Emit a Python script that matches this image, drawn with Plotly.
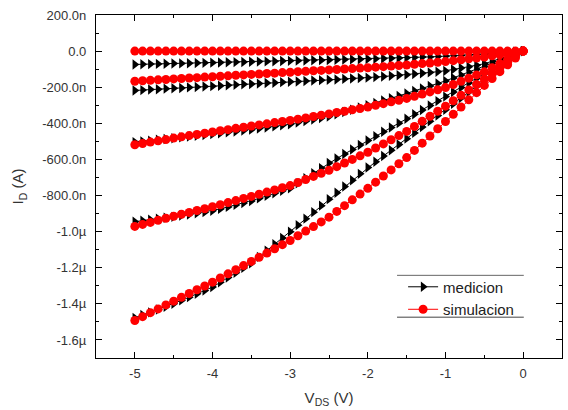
import plotly.graph_objects as go

# V_DS sweep (V)
VDS = [-5.0, -4.9, -4.8, -4.7, -4.6, -4.5, -4.4, -4.3, -4.2, -4.1,
       -4.0, -3.9, -3.8, -3.7, -3.6, -3.5, -3.4, -3.3, -3.2, -3.1,
       -3.0, -2.9, -2.8, -2.7, -2.6, -2.5, -2.4, -2.3, -2.2, -2.1,
       -2.0, -1.9, -1.8, -1.7, -1.6, -1.5, -1.4, -1.3, -1.2, -1.1,
       -1.0, -0.9, -0.8, -0.7, -0.6, -0.5, -0.4, -0.3, -0.2, -0.1, 0.0]

# medicion (nA)
med_1 = [-74, -73, -72, -71, -70, -69, -68, -67, -66, -65,
         -64, -63, -62, -61, -60, -59, -58, -57, -56, -55,
         -54, -53, -52, -51, -50, -49, -48, -47, -46, -45,
         -44, -43, -41, -40, -38, -37, -35, -33, -32, -30,
         -28, -26, -24, -21, -19, -17, -14, -10, -7, -3, 0]
med_2 = [-218, -216, -213, -211, -208, -206, -204, -201, -199, -196,
         -194, -192, -189, -187, -184, -182, -180, -177, -175, -172,
         -170, -168, -166, -163, -161, -159, -157, -154, -152, -149,
         -147, -144, -141, -137, -134, -131, -127, -123, -118, -114,
         -110, -102, -94, -86, -78, -70, -56, -42, -28, -14, 0]
med_3 = [-504, -500, -496, -491, -487, -483, -478, -474, -469, -465,
         -460, -455, -450, -445, -440, -435, -429, -423, -417, -411,
         -405, -396, -388, -379, -371, -362, -350, -337, -325, -312,
         -300, -287, -274, -261, -248, -235, -221, -207, -193, -179,
         -165, -149, -133, -117, -101, -85, -68, -51, -34, -17, 0]
med_4 = [-945, -940, -934, -929, -923, -918, -911, -905, -898, -892,
         -885, -874, -863, -852, -841, -830, -816, -802, -788, -774,
         -760, -732, -704, -676, -648, -620, -595, -570, -545, -520,
         -495, -471, -447, -423, -399, -375, -350, -326, -301, -277,
         -252, -227, -202, -176, -151, -126, -101, -76, -50, -25, 0]
med_5 = [-1478, -1462, -1447, -1431, -1416, -1400, -1381, -1363, -1344, -1326,
         -1307, -1281, -1254, -1228, -1201, -1175, -1140, -1105, -1070, -1035,
         -1000, -964, -928, -892, -856, -820, -785, -750, -715, -680,
         -645, -613, -581, -549, -517, -485, -453, -421, -389, -357,
         -325, -292, -260, -227, -195, -162, -130, -97, -65, -32, 0]

# simulacion (nA)
sim_1 = [0] * 51
sim_2 = [-167, -164, -162, -159, -157, -154, -152, -149, -147, -144,
         -142, -139, -137, -134, -132, -129, -127, -124, -122, -119,
         -117, -114, -112, -109, -107, -104, -102, -99, -97, -94,
         -92, -89, -86, -83, -80, -77, -73, -69, -66, -62,
         -58, -53, -48, -43, -38, -33, -26, -20, -13, -7, 0]
sim_3 = [-519, -512, -504, -497, -490, -482, -475, -468, -462, -455,
         -448, -441, -435, -428, -422, -415, -409, -403, -396, -390,
         -384, -377, -370, -362, -355, -348, -340, -333, -325, -318,
         -310, -300, -291, -281, -272, -262, -250, -238, -226, -214,
         -202, -185, -167, -150, -132, -115, -92, -69, -46, -23, 0]
sim_4 = [-971, -960, -949, -937, -926, -915, -904, -894, -883, -873,
         -862, -851, -839, -828, -816, -805, -793, -781, -769, -757,
         -745, -728, -711, -694, -677, -660, -640, -620, -600, -580,
         -560, -537, -514, -491, -468, -445, -417, -389, -361, -333,
         -305, -275, -245, -215, -185, -155, -124, -93, -62, -31, 0]
sim_5 = [-1492, -1471, -1449, -1428, -1406, -1385, -1364, -1343, -1322, -1301,
         -1280, -1257, -1234, -1211, -1188, -1165, -1142, -1119, -1095, -1072,
         -1049, -1023, -997, -972, -946, -920, -888, -856, -824, -792,
         -760, -726, -692, -658, -624, -590, -550, -510, -470, -430,
         -390, -350, -310, -270, -230, -190, -152, -114, -76, -38, 0]

medicion = [med_1, med_2, med_3, med_4, med_5]
simulacion = [sim_1, sim_2, sim_3, sim_4, sim_5]

x_tickvals = [-5, -4, -3, -2, -1, 0]
x_ticktext = ["-5", "-4", "-3", "-2", "-1", "0"]
y_tickvals_nA = [200, 0, -200, -400, -600, -800, -1000, -1200, -1400, -1600]
y_ticktext = ["200.0n", "0.0", "-200.0n", "-400.0n", "-600.0n", "-800.0n",
              "-1.0µ", "-1.2µ", "-1.4µ", "-1.6µ"]

FONT = "Arial, Liberation Sans, sans-serif"

fig = go.Figure()
for i, ys in enumerate(medicion):
    fig.add_trace(go.Scatter(
        x=VDS, y=[v * 1e-9 for v in ys], mode="lines+markers",
        name="medicion", legendgroup="med", showlegend=(i == 0),
        line=dict(color="black", width=1),
        marker=dict(symbol="triangle-right", size=9, color="black"),
    ))
for i, ys in enumerate(simulacion):
    fig.add_trace(go.Scatter(
        x=VDS, y=[v * 1e-9 for v in ys], mode="lines+markers",
        name="simulacion", legendgroup="sim", showlegend=(i == 0),
        line=dict(color="#ff0000", width=1),
        marker=dict(symbol="circle", size=9, color="#ff0000"),
    ))

axis_common = dict(
    showline=True, linecolor="black", linewidth=1.2, mirror="allticks",
    ticks="inside", ticklen=6, tickwidth=1, tickcolor="black",
    showgrid=False, zeroline=False,
    tickfont=dict(family=FONT, size=13, color="#333333"),
)

fig.update_xaxes(
    range=[-5.5, 0.5], tickmode="array", tickvals=x_tickvals, ticktext=x_ticktext,
    ticklabelstandoff=3,
    minor=dict(ticks="inside", ticklen=3, tickmode="linear", tick0=-5, dtick=0.5,
               tickcolor="black", showgrid=False),
    title=dict(text="V<sub>DS</sub> (V)", font=dict(family=FONT, size=15, color="#333333"),
               standoff=12),
    **axis_common,
)
fig.update_yaxes(
    range=[-1.7e-6, 2e-7], tickmode="array",
    tickvals=[v * 1e-9 for v in y_tickvals_nA], ticktext=y_ticktext,
    ticklabelstandoff=6,
    minor=dict(ticks="inside", ticklen=3, tickmode="linear", tick0=0, dtick=1e-7,
               tickcolor="black", showgrid=False),
    title=dict(text="I<sub>D</sub> (A)", font=dict(family=FONT, size=15, color="#333333"),
               standoff=14),
    **axis_common,
)

fig.update_layout(
    width=568, height=410,
    margin=dict(l=96, r=6, t=15, b=52),
    paper_bgcolor="white", plot_bgcolor="white",
    font=dict(family=FONT, color="#333333"),
    legend=dict(x=0.659, y=0.255, xanchor="left", yanchor="top",
                bgcolor="rgba(0,0,0,0)", borderwidth=0,
                font=dict(family=FONT, size=15, color="#222222"),
                tracegroupgap=0),
    shapes=[
        dict(type="line", xref="paper", yref="paper", x0=0.646, x1=0.918,
             y0=0.241, y1=0.241, line=dict(color="#666666", width=1)),
        dict(type="line", xref="paper", yref="paper", x0=0.646, x1=0.918,
             y0=0.119, y1=0.119, line=dict(color="#444444", width=1)),
    ],
)

fig.write_html("out.html")
